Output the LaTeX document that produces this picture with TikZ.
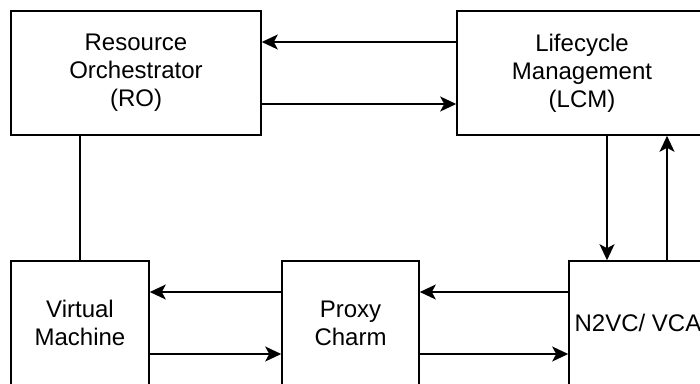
\documentclass[tikz,border=0pt]{standalone}
\usepackage{fontspec}
\setmainfont{Liberation Sans}
\usetikzlibrary{arrows.meta}

\tikzset{
  block/.style={draw, line width=1.6pt, minimum width=#1, minimum height=124pt,
    inner sep=0pt, align=center, font=\fontsize{24}{28}\selectfont},
  link/.style={line width=1.6pt},
  flow/.style={link, -{Stealth[length=16pt,width=15pt,inset=4pt]}},
}

\begin{document}
\begin{tikzpicture}[x=1pt,y=-1pt]
  \useasboundingbox (0,0) rectangle (700,383);

  % top row
  \node[block=250pt] (ro) at (136,73) {Resource\\Orchestrator\\(RO)};
  \node[block=250pt] (lcm) at (582,73) {Lifecycle\\Management\\(LCM)};

  % bottom row
  \node[block=138pt] (vm) at (80,323) {Virtual\\Machine};
  \node[block=137pt] (proxy) at (350.5,323) {Proxy\\Charm};
  \node[block=138pt] (vca) at (638,323) {N2VC/ VCA};

  % RO <-> LCM
  \draw[flow] ([yshift=31pt]lcm.west) -- ([yshift=31pt]ro.east);
  \draw[flow] ([yshift=-31pt]ro.east) -- ([yshift=-31pt]lcm.west);

  % RO -- VM
  \draw[link] (vm.north) -- (vm.north |- ro.south);

  % LCM <-> VCA
  \draw[flow] ([xshift=25pt]lcm.south) -- ([xshift=-31pt]vca.north);
  \draw[flow] ([xshift=29pt]vca.north) -- ([xshift=85pt]lcm.south);

  % VM <-> Proxy <-> VCA
  \draw[flow] ([yshift=31pt]proxy.west) -- ([yshift=31pt]vm.east);
  \draw[flow] ([yshift=-31pt]vm.east) -- ([yshift=-31pt]proxy.west);
  \draw[flow] ([yshift=31pt]vca.west) -- ([yshift=31pt]proxy.east);
  \draw[flow] ([yshift=-31pt]proxy.east) -- ([yshift=-31pt]vca.west);
\end{tikzpicture}
\end{document}
